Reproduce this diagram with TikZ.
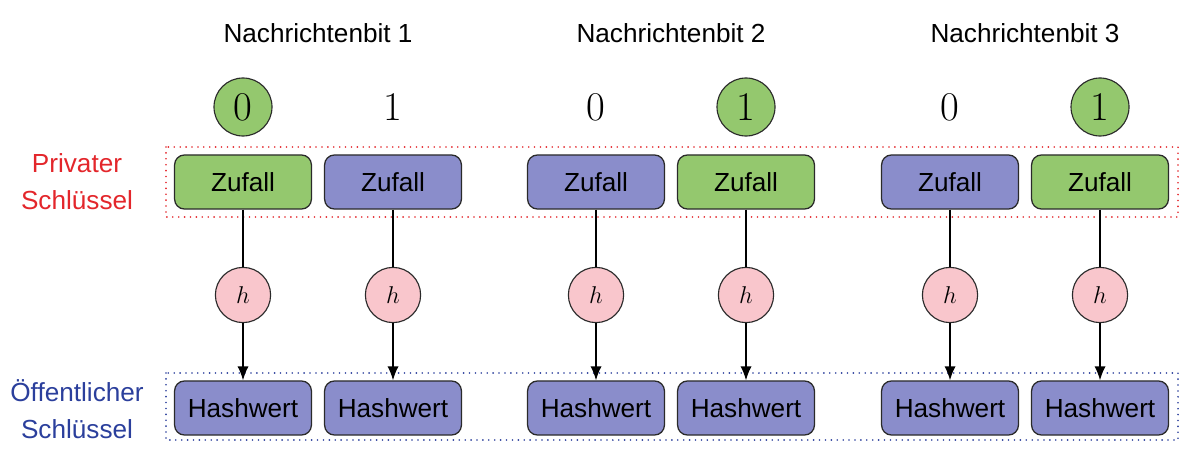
\documentclass[tikz,border=0pt]{standalone}
\usepackage{fontspec}
\setsansfont{Liberation Sans}
\usetikzlibrary{arrows.meta}
\definecolor{boxgreen}{HTML}{94C86E}
\definecolor{boxblue}{HTML}{8A8DCB}
\definecolor{hpink}{HTML}{F9C6CC}
\definecolor{keyred}{HTML}{E3262B}
\definecolor{keyblue}{HTML}{2B3F9C}
\definecolor{edge}{HTML}{2A2A2A}
\tikzset{
  stdbox/.style={draw=edge, line width=0.9pt, rounded corners=7pt, minimum width=3.42cm, minimum height=1.35cm, inner sep=0pt, font=\sffamily\fontsize{18.6}{22}\selectfont},
  greenbox/.style={stdbox, fill=boxgreen},
  bluebox/.style={stdbox, fill=boxblue},
  hnode/.style={circle, draw=edge, line width=0.8pt, fill=hpink, minimum size=1.38cm, inner sep=0pt, font=\fontsize{19}{22}\selectfont},
  bitcirc/.style={circle, draw=edge, line width=0.8pt, fill=boxgreen, minimum size=1.45cm, inner sep=0pt, font=\fontsize{29}{31}\selectfont},
  bitplain/.style={inner sep=0pt, font=\fontsize{29}{31}\selectfont},
  title/.style={font=\sffamily\fontsize{18.6}{22}\selectfont},
  keylabel/.style={align=center, font=\sffamily\fontsize{18.6}{26.5}\selectfont},
  conn/.style={line width=1.1pt, draw=black},
  arr/.style={conn, -{Latex[length=10pt,width=8pt]}},
  group/.style={line width=1.3pt, dash pattern=on 0pt off 4.2pt, line cap=round}
}
\begin{document}
\begin{tikzpicture}[x=0.025cm, y=-0.025cm]
\useasboundingbox (0,0) rectangle (1200,451);
% group frames
\draw[group, draw=keyred] (166,147) rectangle (1178,217);
\draw[group, draw=keyblue] (166,373) rectangle (1178,440);
% labels
\node[keylabel, text=keyred] (lpriv) at (77,182) {Privater\\Schlüssel};
\node[keylabel, text=keyblue] (lpub) at (77,409) {Öffentlicher\\Schlüssel};
% titles
\node[title] (t1) at (318,33) {Nachrichtenbit 1};
\node[title] (t2) at (671,33) {Nachrichtenbit 2};
\node[title] (t3) at (1025,33) {Nachrichtenbit 3};
% bits
\node[bitcirc] (b1) at (243,107) {0};
\node[bitplain] (b2) at (393,107) {1};
\node[bitplain] (b3) at (596,107) {0};
\node[bitcirc] (b4) at (746,107) {1};
\node[bitplain] (b5) at (950,107) {0};
\node[bitcirc] (b6) at (1100,107) {1};
% private key boxes
\node[greenbox] (z1) at (243,182) {Zufall};
\node[bluebox] (z2) at (393,182) {Zufall};
\node[bluebox] (z3) at (596,182) {Zufall};
\node[greenbox] (z4) at (746,182) {Zufall};
\node[bluebox] (z5) at (950,182) {Zufall};
\node[greenbox] (z6) at (1100,182) {Zufall};
% hash functions
\foreach \i/\x in {1/243,2/393,3/596,4/746,5/950,6/1100}{
  \node[hnode] (h\i) at (\x,295) {$h$};
  \node[bluebox] (p\i) at (\x,408) {Hashwert};
}
\foreach \i in {1,...,6}{
  \draw[conn] (z\i) -- (h\i);
  \draw[arr] (h\i) -- (p\i);
}
\end{tikzpicture}
\end{document}
